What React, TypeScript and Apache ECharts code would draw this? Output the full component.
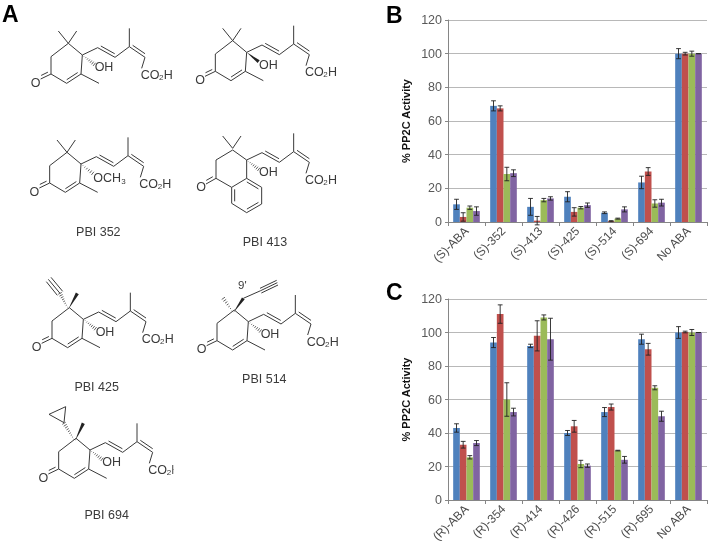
import React, { useEffect, useRef } from "react";
import * as echarts from "echarts";

const seriesColors = ["#4F81BD", "#C0504D", "#9BBB59", "#8064A2"];
const yTicks = { min: 0, max: 120, interval: 20 };

const catsB = ["(S)-ABA", "(S)-352", "(S)-413", "(S)-425", "(S)-514", "(S)-694", "No ABA"];
const b1 = [10.5, 69, 9, 15, 5.5, 23.5, 100];
const b2 = [3, 67.5, 0.8, 6, 0.5, 30, 100];
const b3 = [8.5, 28.5, 13, 8.5, 2, 11, 100];
const b4 = [6.5, 29, 14, 10, 7.5, 11.5, 100];
const bErr1 = [3, 3, 5, 3, 0.5, 3.7, 3];
const bErr2 = [2.5, 1.5, 2.5, 2.5, 0.3, 2.3, 0.8];
const bErr3 = [1, 4, 1, 0.7, 0.3, 2.2, 1.5];
const bErr4 = [2.5, 2, 1, 1.3, 1.5, 2, 0];

const catsC = ["(R)-ABA", "(R)-354", "(R)-414", "(R)-426", "(R)-515", "(R)-695", "No ABA"];
const c1 = [43, 94, 92, 40, 52.5, 96, 100];
const c2 = [33, 111, 98, 44, 55.5, 90, 100.3];
const c3 = [25.5, 60, 109, 21.5, 29.5, 67, 100];
const c4 = [34, 52.5, 96, 20.5, 24, 50, 100];
const cErr1 = [2.5, 3, 1, 1.5, 2.7, 3, 3.5];
const cErr2 = [2, 5.5, 9, 3.5, 1.8, 3.5, 0.5];
const cErr3 = [1, 10, 1.5, 2.2, 0.2, 1.2, 1.8];
const cErr4 = [1.5, 2.3, 12.5, 1, 2, 3, 0];

const yAxisTitle = "% PP2C Activity";
const BAR_FRACTION = 0.18;
const INK = "#3a3a3a";
const MOL_FONT = "Liberation Sans";

type P = [number, number];
const Z = (v: number) => v / 3;

function line(a: P, b: P, lw = 1): any {
  return {
    type: "line",
    silent: true,
    shape: { x1: Z(a[0]), y1: Z(a[1]), x2: Z(b[0]), y2: Z(b[1]) },
    style: { stroke: INK, lineWidth: lw },
  };
}
function bond2(a: P, b: P, side: number): any[] {
  const dx = b[0] - a[0], dy = b[1] - a[1], L = Math.hypot(dx, dy);
  const nx = (-dy / L) * side * 9, ny = (dx / L) * side * 9;
  const sx = (dx / L) * 6, sy = (dy / L) * 6;
  return [line(a, b), line([a[0] + nx + sx, a[1] + ny + sy], [b[0] + nx - sx, b[1] + ny - sy])];
}
function wedge(a: P, b: P): any {
  const dx = b[0] - a[0], dy = b[1] - a[1], L = Math.hypot(dx, dy);
  const nx = (-dy / L) * 5, ny = (dx / L) * 5;
  return {
    type: "polygon",
    silent: true,
    shape: { points: [[Z(a[0]), Z(a[1])], [Z(b[0] + nx), Z(b[1] + ny)], [Z(b[0] - nx), Z(b[1] - ny)]] },
    style: { fill: "#222" },
  };
}
function hash(a: P, b: P): any[] {
  const dx = b[0] - a[0], dy = b[1] - a[1], L = Math.hypot(dx, dy);
  const out: any[] = [];
  const n = Math.max(4, Math.round(L / 7));
  for (let i = 1; i <= n; i++) {
    const t = i / n;
    const w = 6 * t;
    const cx = a[0] + dx * t, cy = a[1] + dy * t;
    out.push(line([cx - (-dy / L) * w, cy - (dx / L) * w], [cx + (-dy / L) * w, cy + (dx / L) * w], 0.8));
  }
  return out;
}
function label(s: string, x: number, y: number, size = 12.5, align = "center", extra: any = {}): any {
  return {
    type: "text",
    silent: true,
    x: Z(x),
    y: Z(y),
    style: { text: s, fontFamily: MOL_FONT, fontSize: size, fill: INK, align, verticalAlign: "middle", ...extra },
  };
}
function chain(ox: number, oy: number): any[] {
  const R = (x: number, y: number): P => [ox + x, oy + y];
  return [
    line(R(0, 0), R(46, -22)),
    ...bond2(R(46, -22), R(98, 7), -1),
    line(R(98, 7), R(141, -25)),
    line(R(141, -25), R(141, -80)),
    ...bond2(R(141, -25), R(188, 7), -1),
    line(R(188, 7), R(178, 40)),
    label("CO", ox + 175, oy + 60, 12.5, "left"),
    label("2", ox + 230, oy + 67, 8, "left"),
    label("H", ox + 244, oy + 60, 12.5, "left"),
  ];
}
function enone(ox: number, oy: number): any[] {
  const R = (x: number, y: number): P => [ox + x, oy + y];
  return [
    line(R(0, 0), R(-4, 57)),
    ...bond2(R(-4, 57), R(-47, 85), 1),
    line(R(-47, 85), R(-94, 57)),
    line(R(-94, 57), R(-94, 5)),
    line(R(-94, 5), R(-42, -35)),
    line(R(-42, -35), R(0, 0)),
    ...bond2(R(-94, 57), R(-125, 72), 1),
    label("O", ox - 140, oy + 83),
    line(R(-4, 57), R(50, 85)),
  ];
}
function gemDimethyl(ox: number, oy: number): any[] {
  const R = (x: number, y: number): P => [ox + x, oy + y];
  return [line(R(-42, -35), R(-72, -72)), line(R(-42, -35), R(-17, -72))];
}
function hydroxyl(ox: number, oy: number): any[] {
  return [...hash([ox, oy], [ox + 36, oy + 28]), label("OH", ox + 65, oy + 37)];
}

function molecules(): any[] {
  const out: any[] = [];
  // natural (+)-ABA
  out.push(...enone(247, 165), ...gemDimethyl(247, 165), ...chain(247, 165), ...hydroxyl(247, 165));
  // (-)-ABA
  out.push(...enone(740, 157), ...gemDimethyl(740, 157), ...chain(740, 157));
  out.push(wedge([740, 157], [776, 185]), label("OH", 805, 195));
  // PBI 352
  out.push(...enone(243, 492), ...gemDimethyl(243, 492), ...chain(243, 492));
  out.push(...hash([243, 492], [278, 520]), label("OCH", 280, 535, 12.5, "left"), label("3", 364, 543, 8, "left"));
  out.push(label("PBI 352", 295, 697));
  // PBI 413
  const ax = 740, ay = 480;
  const A = (x: number, y: number): P => [ax + x, ay + y];
  out.push(...chain(ax, ay), ...gemDimethyl(ax, ay), ...hydroxyl(ax, ay));
  out.push(
    line(A(-92, 0), A(-42, -30)), line(A(-42, -30), A(0, 0)), line(A(0, 0), A(0, 55)),
    line(A(0, 55), A(-45, 82)), line(A(-45, 82), A(-92, 55)), line(A(-92, 55), A(-92, 0)),
    ...bond2(A(-92, 55), A(-122, 72), 1), label("O", ax - 137, ay + 80),
    ...bond2(A(0, 55), A(45, 82), 1), line(A(45, 82), A(45, 132)),
    ...bond2(A(45, 132), A(0, 158), 1), line(A(0, 158), A(-45, 130)),
    ...bond2(A(-45, 130), A(-45, 82), 1),
  );
  out.push(label("PBI 413", 795, 727));
  // PBI 425
  const cx = 250, cy = 958;
  out.push(...enone(cx, cy), ...chain(cx, cy), ...hydroxyl(cx, cy));
  out.push(wedge([cx - 45, cy - 30], [cx - 18, cy - 78]), ...hash([cx - 45, cy - 30], [cx - 70, cy - 78]));
  out.push(line([cx - 70, cy - 78], [cx - 105, cy - 120]));
  out.push(line([cx - 78, cy - 72], [cx - 111, cy - 113]), line([cx - 62, cy - 84], [cx - 97, cy - 126]));
  out.push(label("PBI 425", 290, 1162));
  // PBI 514
  const dx = 745, dy = 965;
  out.push(...enone(dx, dy), ...chain(dx, dy), ...hydroxyl(dx, dy));
  out.push(wedge([dx - 45, dy - 27], [dx - 15, dy - 70]), ...hash([dx - 45, dy - 27], [dx - 75, dy - 70]));
  out.push(line([dx - 15, dy - 70], [dx + 37, dy - 93]));
  out.push(line([dx + 37, dy - 93], [dx + 87, dy - 117]));
  out.push(line([dx + 39, dy - 86], [dx + 89, dy - 110]), line([dx + 35, dy - 100], [dx + 85, dy - 124]));
  out.push(label("9'", 727, 855, 11.5));
  out.push(label("PBI 514", 793, 1137));
  // PBI 694
  const ex = 270, ey = 1350;
  out.push(...enone(ex, ey), ...chain(ex, ey), ...hydroxyl(ex, ey));
  out.push(wedge([ex - 45, ey - 27], [ex - 20, ey - 80]), ...hash([ex - 45, ey - 27], [ex - 78, ey - 80]));
  out.push(line([ex - 78, ey - 82], [ex - 123, ey - 107]), line([ex - 123, ey - 107], [ex - 73, ey - 130]), line([ex - 73, ey - 130], [ex - 78, ey - 82]));
  out.push({ type: "rect", silent: true, shape: { x: 173.5, y: 453, width: 16, height: 22 }, style: { fill: "#fff" } });
  out.push(label("PBI 694", 320, 1545));
  // panel letters
  const letter = (s: string, x: number, y: number) => ({
    type: "text",
    silent: true,
    x,
    y,
    style: { text: s, fontFamily: "Liberation Sans", fontWeight: "bold", fontSize: 23, fill: "#000", align: "left", verticalAlign: "middle" },
  });
  out.push(letter("A", 2, 14), letter("B", 386, 15), letter("C", 386, 292));
  return out;
}

function errorSeries(xIdx: number, idx: number, vals: number[], errs: number[]): any {
  return {
    type: "custom",
    xAxisIndex: xIdx,
    yAxisIndex: xIdx,
    silent: true,
    z: 5,
    data: vals.map((v, i) => [i, v - errs[i], v + errs[i]]),
    encode: { x: 0, y: [1, 2] },
    renderItem: (_: any, api: any) => {
      const cat = api.value(0);
      const band = api.size([1, 0])[0];
      const off = (idx - 1.5) * band * BAR_FRACTION;
      const lo = api.coord([cat, api.value(1)]);
      const hi = api.coord([cat, api.value(2)]);
      const x = lo[0] + off;
      const st = { stroke: "#222", lineWidth: 0.9, fill: "none" };
      return {
        type: "group",
        children: [
          { type: "line", shape: { x1: x, y1: lo[1], x2: x, y2: hi[1] }, style: st },
          { type: "line", shape: { x1: x - 2.4, y1: hi[1], x2: x + 2.4, y2: hi[1] }, style: st },
          { type: "line", shape: { x1: x - 2.4, y1: lo[1], x2: x + 2.4, y2: lo[1] }, style: st },
        ],
      };
    },
  };
}

const axisGray = "#868686";
const labelGray = "#595959";
const tickFont = "Liberation Sans";

function xAxis(cats: string[], gridIndex: number): any {
  return {
    type: "category",
    gridIndex,
    data: cats,
    axisLine: { lineStyle: { color: axisGray, width: 1 } },
    axisTick: { show: true, length: 4, alignWithLabel: false, lineStyle: { color: axisGray } },
    axisLabel: { interval: 0, rotate: 45, margin: 7, color: "#4d4d4d", fontSize: 12, fontFamily: tickFont },
    splitLine: { show: false },
  };
}
function yAxis(gridIndex: number): any {
  return {
    type: "value",
    gridIndex,
    ...yTicks,
    name: yAxisTitle,
    nameLocation: "middle",
    nameGap: 37,
    nameTextStyle: { fontFamily: tickFont, fontWeight: "bold", fontSize: 11, color: "#111" },
    axisLine: { show: true, lineStyle: { color: axisGray, width: 1 } },
    axisTick: { show: true, length: 3, lineStyle: { color: axisGray } },
    axisLabel: { margin: 6, color: labelGray, fontSize: 12.5, fontFamily: tickFont },
    splitLine: { show: true, lineStyle: { color: "#b8b8b8", width: 1 } },
  };
}

function barSeries(gridIndex: number, rows: number[][], errs: number[][]): any[] {
  return [
    ...rows.map((data, i) => ({
      type: "bar",
      xAxisIndex: gridIndex,
      yAxisIndex: gridIndex,
      data,
      barWidth: `${BAR_FRACTION * 100}%`,
      barGap: "0%",
      itemStyle: { color: seriesColors[i] },
    })),
    ...rows.map((data, i) => errorSeries(gridIndex, i, data, errs[i])),
  ];
}

export default function App() {
  const ref = useRef<HTMLDivElement>(null);
  useEffect(() => {
    const chart = echarts.init(ref.current!, undefined, { renderer: "svg" });
    chart.setOption({
      animation: false,
      backgroundColor: "#fff",
      grid: [
        { left: 448, top: 20, width: 259, height: 202 },
        { left: 448, top: 299, width: 259, height: 201 },
      ],
      xAxis: [xAxis(catsB, 0), xAxis(catsC, 1)],
      yAxis: [yAxis(0), yAxis(1)],
      series: [
        ...barSeries(0, [b1, b2, b3, b4], [bErr1, bErr2, bErr3, bErr4]),
        ...barSeries(1, [c1, c2, c3, c4], [cErr1, cErr2, cErr3, cErr4]),
      ],
      graphic: molecules(),
    });
    return () => chart.dispose();
  }, []);
  return <div ref={ref} style={{ position: "fixed", left: 0, top: 0, width: 710, height: 547, filter: "blur(0.35px)" }} />;
}
